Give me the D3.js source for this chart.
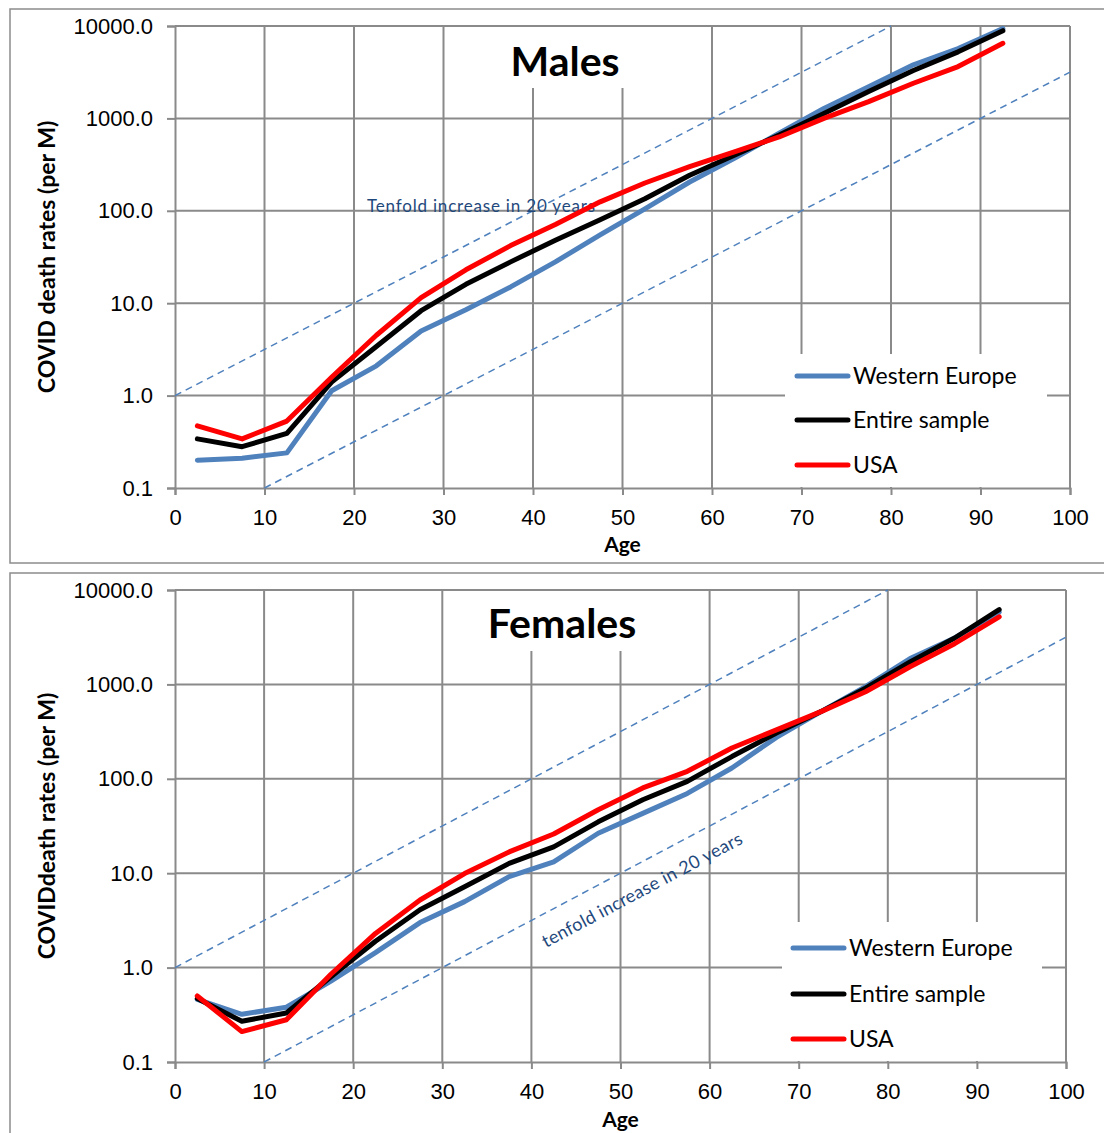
<!DOCTYPE html>
<html>
<head>
<meta charset="utf-8">
<script src="https://cdn.jsdelivr.net/npm/d3@7"></script>
<style>
  html, body { margin: 0; padding: 0; background: #fff; }
  svg { display: block; }
</style>
</head>
<body>
<svg id="chart" width="1104" height="1133"></svg>
<script>
// ---------- DATA ----------
const ages = [2.5, 7.5, 12.5, 17.5, 22.5, 27.5, 32.5, 37.5, 42.5, 47.5, 52.5, 57.5, 62.5, 67.5, 72.5, 77.5, 82.5, 87.5, 92.5];

const seriesNames = ["Western Europe", "Entire sample", "USA"];
const seriesColors = ["#4F81BD", "#000000", "#FF0000"];

// Males (deaths per million)
const malesWesternEurope = [0.2, 0.21, 0.24, 1.13, 2.1, 5.0, 8.5, 15, 28, 55, 105, 205, 370, 690, 1280, 2200, 3800, 5700, 9400];
const malesEntireSample  = [0.34, 0.28, 0.39, 1.4, 3.4, 8.3, 16, 28, 48, 80, 135, 243, 400, 660, 1130, 1950, 3300, 5250, 8900];
const malesUSA           = [0.47, 0.34, 0.53, 1.58, 4.5, 11.5, 23, 42, 71, 125, 200, 300, 435, 630, 1000, 1520, 2400, 3640, 6500];

// Females (deaths per million)
const femalesWesternEurope = [0.46, 0.32, 0.38, 0.72, 1.44, 3.0, 5.0, 9.2, 13.2, 26.5, 43, 70, 130, 275, 515, 945, 1880, 3100, 5850];
const femalesEntireSample  = [0.47, 0.27, 0.33, 0.8, 1.9, 4.1, 7.2, 12.7, 19, 35, 60, 94, 172, 305, 515, 910, 1730, 3100, 6200];
const femalesUSA           = [0.5, 0.21, 0.28, 0.85, 2.3, 5.2, 9.9, 16.8, 26, 47, 80, 120, 212, 330, 515, 835, 1540, 2700, 5200];

// Reference "tenfold increase in 20 years" lines: [age, value] endpoints
const refUpper = [[0, 1], [80, 10000]];
const refLower = [[10, 0.1], [100, 3162.28]];

// Axis ticks
const xTicks = [0, 10, 20, 30, 40, 50, 60, 70, 80, 90, 100];
const yTicks = [0.1, 1, 10, 100, 1000, 10000];

// ---------- DRAW ----------
const svg = d3.select("#chart");
const tickFont = "'Liberation Sans', Arial, sans-serif";
const txtFont = "Lato, 'Open Sans', sans-serif";
const gridColor = "#8a8a8a";

function drawPanel(p) {
  const g = svg.append("g");
  // panel frame
  g.append("rect")
    .attr("x", p.frame[0]).attr("y", p.frame[1])
    .attr("width", p.frame[2]).attr("height", p.frame[3])
    .attr("fill", "#fff").attr("stroke", "#8c8c8c").attr("stroke-width", 1.5);

  const x = d3.scaleLinear().domain([0, 100]).range([p.x0, p.x1]);
  const y = d3.scaleLog().domain([0.1, 10000]).range([p.y1, p.y0]);

  // grid
  g.append("g").selectAll("line").data(xTicks.slice(1)).join("line")
    .attr("x1", d => x(d)).attr("x2", d => x(d))
    .attr("y1", p.y0).attr("y2", p.y1)
    .attr("stroke", gridColor).attr("stroke-width", 2);
  g.append("g").selectAll("line").data(yTicks.slice(1)).join("line")
    .attr("x1", p.x0).attr("x2", p.x1)
    .attr("y1", d => y(d)).attr("y2", d => y(d))
    .attr("stroke", gridColor).attr("stroke-width", 2);

  // axes
  const xAxis = d3.axisBottom(x).tickValues(xTicks).tickSize(7).tickPadding(14).tickFormat(d3.format("d"));
  const yAxis = d3.axisLeft(y).tickValues(yTicks).tickSize(8).tickPadding(14).tickFormat(d3.format(".1f"));
  const gx = g.append("g").attr("transform", `translate(0,${p.y1})`).call(xAxis);
  const gy = g.append("g").attr("transform", `translate(${p.x0},0)`).call(yAxis);
  [gx, gy].forEach(a => {
    a.select(".domain").attr("stroke", gridColor).attr("stroke-width", 2);
    a.selectAll(".tick line").attr("stroke", gridColor).attr("stroke-width", 2);
    a.selectAll(".tick text").attr("font-family", tickFont).attr("font-size", 22).attr("fill", "#000");
  });

  // title box
  g.append("rect").attr("x", p.titleBox[0]).attr("y", p.titleBox[1])
    .attr("width", p.titleBox[2]).attr("height", p.titleBox[3]).attr("fill", "#fff");
  g.append("text").attr("x", p.titlePos[0]).attr("y", p.titlePos[1])
    .attr("text-anchor", "middle").attr("font-family", txtFont).attr("font-weight", "bold")
    .attr("font-size", 41).text(p.title);

  // reference dashed lines
  const refLine = d3.line().x(d => x(d[0])).y(d => y(d[1]));
  [refUpper, refLower].forEach(r => {
    g.append("path").attr("d", refLine(r)).attr("fill", "none")
      .attr("stroke", "#4F81BD").attr("stroke-width", 1.5).attr("stroke-dasharray", "7,5");
  });

  // annotation
  const ann = g.append("text").attr("font-family", txtFont).attr("font-size", p.annSize)
    .attr("fill", "#1F497D").attr("textLength", p.annLen).attr("lengthAdjust", "spacing")
    .text(p.annText);
  if (p.annRot) {
    ann.attr("transform", `translate(${p.annPos[0]},${p.annPos[1]}) rotate(${p.annRot})`);
  } else {
    ann.attr("x", p.annPos[0]).attr("y", p.annPos[1]);
  }

  // legend box
  g.append("rect").attr("x", p.legBox[0]).attr("y", p.legBox[1])
    .attr("width", p.legBox[2]).attr("height", p.legBox[3]).attr("fill", "#fff");

  // series
  const line = d3.line().x((d, i) => x(ages[i])).y(d => y(d));
  p.series.forEach((s, k) => {
    g.append("path").attr("d", line(s)).attr("fill", "none")
      .attr("stroke", seriesColors[k]).attr("stroke-width", 5)
      .attr("stroke-linejoin", "round").attr("stroke-linecap", "round");
  });

  // legend entries
  seriesNames.forEach((name, k) => {
    const ly = p.legY[k];
    g.append("line").attr("x1", p.legX).attr("x2", p.legX + 51)
      .attr("y1", ly).attr("y2", ly)
      .attr("stroke", seriesColors[k]).attr("stroke-width", 5).attr("stroke-linecap", "round");
    g.append("text").attr("x", p.legX + 56).attr("y", ly + 8)
      .attr("font-family", txtFont).attr("font-size", 23).attr("fill", "#000").text(name);
  });

  // axis titles
  g.append("text").attr("x", (p.x0 + p.x1) / 2).attr("y", p.xTitleY)
    .attr("text-anchor", "middle").attr("font-family", txtFont).attr("font-weight", "bold")
    .attr("font-size", 21).text("Age");
  g.append("text")
    .attr("transform", `translate(55,${(p.y0 + p.y1) / 2}) rotate(-90)`)
    .attr("text-anchor", "middle").attr("font-family", txtFont).attr("font-weight", "bold")
    .attr("font-size", 23).text(p.yTitle);
}

drawPanel({
  frame: [10, 9, 1110, 554],
  x0: 175, x1: 1070, y0: 26, y1: 488,
  title: "Males", titlePos: [565, 76], titleBox: [500, 27, 130, 61],
  annText: "Tenfold increase in 20 years", annPos: [367, 212], annSize: 17, annLen: 228, annRot: 0,
  legBox: [785, 354, 262, 133], legX: 797, legY: [376, 420, 465],
  series: [malesWesternEurope, malesEntireSample, malesUSA],
  xTitleY: 552, yTitle: "COVID death rates (per M)"
});

drawPanel({
  frame: [10, 573, 1110, 580],
  x0: 175, x1: 1066, y0: 590, y1: 1062,
  title: "Females", titlePos: [562, 638], titleBox: [478, 591, 170, 60],
  annText: "tenfold increase in 20 years", annPos: [546, 948], annSize: 18, annLen: 224, annRot: -28,
  legBox: [782, 922, 260, 139], legX: 793, legY: [948, 994, 1039],
  series: [femalesWesternEurope, femalesEntireSample, femalesUSA],
  xTitleY: 1127, yTitle: "COVIDdeath rates (per M)"
});
</script>
</body>
</html>
